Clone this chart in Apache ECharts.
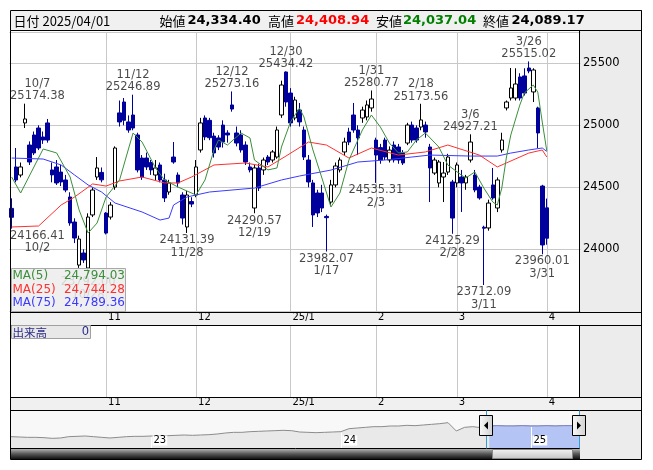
<!DOCTYPE html>
<html><head><meta charset="utf-8"><title>chart</title>
<script src="https://cdn.jsdelivr.net/npm/echarts@6.0.0/dist/echarts.min.js"></script>
<style>html,body{margin:0;padding:0;background:#fff;}#chart{width:653px;height:470px;}</style>
</head><body><div id="chart"></div>
<script>
const tradingDates = ['10/2','10/3','10/4','10/7','10/8','10/9','10/10','10/11','10/15','10/16','10/17','10/18','10/21','10/22','10/23','10/24','10/25','10/28','10/29','10/30','10/31',
'11/1','11/5','11/6','11/7','11/8','11/11','11/12','11/13','11/14','11/15','11/18','11/19','11/20','11/21','11/22','11/25','11/26','11/27','11/28','11/29',
'12/2','12/3','12/4','12/5','12/6','12/9','12/10','12/11','12/12','12/13','12/16','12/17','12/18','12/19','12/20','12/23','12/24','12/25','12/26','12/27','12/30',
'1/6','1/7','1/8','1/9','1/10','1/14','1/15','1/16','1/17','1/20','1/21','1/22','1/23','1/24','1/27','1/28','1/29','1/30','1/31',
'2/3','2/4','2/5','2/6','2/7','2/10','2/12','2/13','2/14','2/17','2/18','2/19','2/20','2/21','2/25','2/26','2/27','2/28',
'3/3','3/4','3/5','3/6','3/7','3/10','3/11','3/12','3/13','3/14','3/17','3/18','3/19','3/21','3/24','3/25','3/26','3/27','3/28','3/31','4/1'];

const openValues = [24330,24664,24599,25019,24841,24922,24978,24906,25019,24640,24664,24623,24559,24422,24220,23873,23970,23849,24277,24583,24620,
24292,24260,24502,25100,25188,25027,25083,24922,24736,24736,24700,24599,24680,24559,24462,24744,24599,24438,24180,24385,
24438,24801,25059,25040,24913,24898,25002,24938,25164,24938,24922,24841,24664,24333,24656,24640,24744,24720,24744,25083,25430,
25260,25059,25123,24962,24720,24535,24454,24454,24265,24381,24519,24640,24785,24946,25083,24962,25059,25067,25140,
24881,24820,24881,24720,24841,24825,24777,24857,25002,24978,24986,25002,24825,24615,24535,24583,24623,24543,
24535,24583,24535,24720,24599,24502,24178,24172,24519,24333,24801,25140,25220,25220,25390,25398,25462,25269,25140,24510,24334.40];
const highValues = [24411,24817,24700,25174.38,24870,24950,25000,24950,25051,24700,24720,24680,24600,24460,24250,24110,24000,24290,24500,24744,24660,
24300,24380,24830,25200,25220,25080,25246.89,24940,24760,24780,24720,24720,24700,24610,24560,24865,24620,24460,24470,24420,
24720,25060,25080,25060,24940,24920,25040,24960,25273.16,24990,24960,24870,24700,24680,24690,24740,24760,24800,24990,25360,25434.42,
25300,25230,25180,24990,24760,24560,24480,24520,24280,24560,24700,24740,24900,24980,25180,25000,25150,25200,25280.77,
24900,24850,24900,24830,24870,24850,24800,25020,25030,25000,25173.56,25030,24850,24740,24720,24704,24770,24560,
24700,24640,24600,24927.21,24640,24520,24190,24400,24656,24580,24940,25200,25462,25460,25420,25460,25515.02,25460,25150,24520,24408.94];
const lowValues = [24166.41,24540,24580,24978,24680,24760,24800,24850,24860,24540,24519,24510,24460,24190,24050,23850,23890,23792,24260,24560,24540,
24120,24240,24480,24990,25000,24940,24960,24620,24560,24640,24600,24559,24540,24381,24440,24690,24500,24200,24131.39,24340,
24420,24780,24880,24880,24740,24800,24820,24860,25110,24830,24780,24680,24620,24290.57,24470,24600,24680,24700,24730,25060,25150,
24990,25040,24990,24720,24500,24180,24260,24300,23982.07,24360,24500,24620,24760,24840,24940,24760,25020,25040,25110,
24535.31,24690,24720,24700,24700,24690,24680,24840,24860,24860,24960,24900,24381,24600,24500,24381,24600,24125.29,
24500,24301,24480,24700,24460,24400,23712.09,24150,24400,24300,24780,25120,25200,25200,25200,25240,25420,25188,24817,23960.01,24037.04];
const closeValues = [24258,24559,24664,25051,24704,24777,24817,24881,24881,24600,24535,24543,24478,24212,24091,24083,23914,24260,24478,24656,24560,
24131,24357,24817,25027,25040,24962,24978,24640,24583,24664,24640,24656,24559,24414,24535,24704,24535,24252,24438,24365,
24664,25019,24906,24900,24777,24825,24865,24922,25131,24857,24801,24704,24640,24656,24494,24720,24704,24785,24962,25325,25188,
25019,25204,25027,24744,24543,24277,24293,24333,24255,24519,24672,24720,24865,24865,24962,24898,25123,25164,25212,
24760,24720,24744,24800,24720,24720,24696,25002,24881,24881,25043,24946,24656,24720,24704,24615,24744,24252,
24680,24535,24583,24865,24478,24414,24170,24373,24414,24559,24881,25188,25301,25333,25220,25260,25438,25446,24938,24035,24089.17];

// moving averages: [dateIndex, value]
const ma5Points = [[0,24583],[2,24454],[7,24809],[10,24777],[13,24583],[15,24317],[17,24131],[19,24212],[21,24422],[24,24559],[27,24938],[29,24865],[32,24656],[34,24559],[37,24502],[41,24438],[43,24559],[45,24801],[46,24881],[48,24841],[51,24938],[53,24898],[54,24720],[57,24640],[59,24656],[60,24825],[62,25026],[64,25139],[65,25067],[67,24801],[69,24575],[71,24341],[73,24454],[75,24720],[78,24962],[80,25083],[82,24986],[84,24857],[86,24777],[88,24785],[90,24881],[92,24938],[95,24825],[97,24680],[100,24599],[101,24575],[103,24624],[105,24494],[107,24381],[108,24357],[109,24494],[110,24736],[111,24922],[113,25163],[114,25260],[116,25325],[117,25268],[118,25026],[119,24794.03]];
const ma25Points = [[0,24180],[6,24188],[11,24357],[14,24422],[18,24527],[21,24510],[24,24551],[29,24583],[34,24535],[37,24535],[40,24583],[45,24680],[52,24696],[57,24664],[61,24752],[66,24865],[70,24841],[75,24736],[80,24817],[86,24760],[92,24785],[97,24841],[104,24760],[108,24664],[110,24696],[115,24776],[118,24801],[119,24744.28]];
const ma75Points = [[0,24736],[7,24728],[11,24680],[14,24599],[17,24519],[20,24462],[23,24373],[29,24301],[33,24236],[35,24252],[36,24357],[39,24422],[44,24462],[54,24494],[60,24559],[64,24591],[71,24639],[77,24704],[83,24720],[89,24744],[93,24760],[102,24752],[108,24752],[111,24776],[115,24801],[118,24817],[119,24789.36]];

const highMarkDates = ['10/7','11/12','12/12','12/30','1/31','2/18','3/6','3/26'];
const lowMarkDates = ['10/2','10/28','11/28','12/19','1/17','2/3','2/28','3/11','3/31'];

const monthStartDates = ['11/1','12/2','1/6','2/3','3/3','4/1'];
const monthLabels = ['11','12','25/1','2','3','4'];
const yTickLabels = [24000, 24500, 25000, 25500];
const headerDate = '2025/04/01';
const volumeLabel = '出来高';
const volumeValue = 0;

// navigator (long history thumbnail)
const navValues = [21895,21806,21718,21718,21630,21453,21541,21895,21983,22071,21895,21718,21541,21718,21895,21983,21983,22071,22071,22160,22248,22336,22248,22336,22425,22601,22866,23043,23043,23220,23308,23397,23485,23573,23485,23132,23043,22955,23043,23132,23220,24015,24192,24368,24545,24545,24722,24722,24898,24810,24987,25164,25340,25605,23397,24368,24545,24280,24722,24810,24722,24722,24810,24722,24722,24810,24722,24810,24810,24810];
const navYearStartIdx = [17, 40, 63];
const navYearLabels = ['23', '24', '25'];
const navSelectStart = 58;

const FONT = '"DejaVu Sans", "Noto Sans CJK JP", sans-serif';
const JFONT = '"Noto Sans CJK JP", "DejaVu Sans", sans-serif';
const UP_BORDER = '#000000', DOWN_COLOR = '#00009c';
const GRID_COLOR = '#c8c8c8';

const N_SLOTS = 127;
const categories = tradingDates.concat(Array.from({length: N_SLOTS - tradingDates.length}, (_, k) => 'pad' + k));
const idxOf = d => tradingDates.indexOf(d);
const fmt = v => v.toLocaleString('en-US', {minimumFractionDigits: 2, maximumFractionDigits: 2});
const last = tradingDates.length - 1;

const candleData = tradingDates.map((d, i) => [openValues[i], closeValues[i], lowValues[i], highValues[i]]);
const monthStartIdx = monthStartDates.map(idxOf);

function vLines(params, api) {
  const x = Math.round(api.coord([api.value(0), 0])[0]) + 0.5;
  const cs = params.coordSys;
  return {type: 'line', shape: {x1: x, y1: cs.y, x2: x, y2: cs.y + cs.height}, style: {stroke: GRID_COLOR, lineWidth: 1}, silent: true};
}

const chart = echarts.init(document.getElementById('chart'), null, {renderer: 'canvas', width: 653, height: 470});

const xCommon = (gi, margin) => ({
  type: 'category', gridIndex: gi, data: categories, boundaryGap: true,
  axisLine: {show: false}, axisTick: {show: false}, splitLine: {show: false},
  axisLabel: {
    show: true, interval: (i, v) => monthStartDates.includes(v),
    formatter: v => monthLabels[monthStartDates.indexOf(v)] || '',
    align: 'left', padding: [0, 0, 0, 2], margin: margin, fontSize: 10, lineHeight: 11,
    fontFamily: FONT, color: '#000'
  }
});

const graphicEls = [];
graphicEls.push({type: 'rect', shape: {x: 10.5, y: 10.5, width: 631, height: 20}, style: {fill: '#f0f0f0', stroke: '#000', lineWidth: 1}, z: 0, silent: true});
const hy = 21;
function htext(x, text, opts) {
  graphicEls.push({type: 'text', x: x, y: hy, z: 30, silent: true, style: Object.assign({text: text, fill: '#000', fontSize: 13, fontFamily: JFONT, verticalAlign: 'middle', textVerticalAlign: 'middle', align: 'left'}, opts || {})});
}
htext(13.5, '日付 ' + headerDate);
htext(159.5, '始値');
htext(187.5, fmt(openValues[last]), {fontWeight: 'bold', fontFamily: FONT});
htext(268, '高値');
htext(296, fmt(highValues[last]), {fontWeight: 'bold', fontFamily: FONT, fill: '#ff0000'});
htext(376, '安値');
htext(403, fmt(lowValues[last]), {fontWeight: 'bold', fontFamily: FONT, fill: '#008000'});
htext(483, '終値');
htext(511.5, fmt(closeValues[last]), {fontWeight: 'bold', fontFamily: FONT});

graphicEls.push({type: 'rect', shape: {x: 580, y: 31, width: 62, height: 281}, style: {fill: '#ececec'}, z: 0, silent: true});
graphicEls.push({type: 'rect', shape: {x: 580, y: 325, width: 62, height: 72}, style: {fill: '#ececec'}, z: 0, silent: true});
graphicEls.push({type: 'rect', shape: {x: 580, y: 410, width: 62, height: 49}, style: {fill: '#ececec'}, z: 0, silent: true});
graphicEls.push({type: 'rect', shape: {x: 11, y: 312, width: 631, height: 13}, style: {fill: '#f0f0f0'}, z: 0, silent: true});
graphicEls.push({type: 'rect', shape: {x: 11, y: 397, width: 631, height: 13}, style: {fill: '#f0f0f0'}, z: 0, silent: true});
graphicEls.push({type: 'rect', shape: {x: 11, y: 410, width: 569, height: 38}, style: {fill: '#f8f8f8'}, z: 0, silent: true});
const hl = (x1, x2, y) => graphicEls.push({type: 'line', shape: {x1: x1, y1: y, x2: x2, y2: y}, style: {stroke: '#000', lineWidth: 1}, z: 40, silent: true});
const vl = (x, y1, y2, c) => graphicEls.push({type: 'line', shape: {x1: x, y1: y1, x2: x, y2: y2}, style: {stroke: c || '#000', lineWidth: 1}, z: 40, silent: true});
hl(10.5, 641.5, 312.5); hl(10.5, 641.5, 325.5); hl(10.5, 641.5, 397.5); hl(10.5, 641.5, 410.5); hl(10.5, 580, 448.5); hl(10.5, 641.5, 459.5);
vl(10.5, 30.5, 459.5); vl(641.5, 10.5, 459.5); vl(579.5, 30.5, 312.5); vl(579.5, 325.5, 397.5);
graphicEls.push({type: 'rect', shape: {x: 11.5, y: 268.5, width: 114, height: 43}, style: {fill: 'rgba(236,236,236,0.86)', stroke: '#a8a8a8', lineWidth: 1}, z: 50, silent: true});
const maRows = [['MA(5)', ma5Points, '#3a8f3a'], ['MA(25)', ma25Points, '#ff3030'], ['MA(75)', ma75Points, '#3a3aff']];
maRows.forEach((r, k) => {
  const y = 276 + k * 13.5;
  graphicEls.push({type: 'text', x: 12.5, y: y, z: 51, silent: true, style: {text: r[0], fill: r[2], fontSize: 12, fontFamily: FONT, verticalAlign: 'middle', textVerticalAlign: 'middle'}});
  graphicEls.push({type: 'text', x: 125, y: y, z: 51, silent: true, style: {text: fmt(r[1][r[1].length - 1][1]), fill: r[2], fontSize: 12, fontFamily: FONT, align: 'right', textAlign: 'right', verticalAlign: 'middle', textVerticalAlign: 'middle'}});
});
graphicEls.push({type: 'rect', shape: {x: 11.5, y: 325.5, width: 79, height: 13}, style: {fill: '#e8e8e8', stroke: '#a0a0a0', lineWidth: 1}, z: 50, silent: true});
graphicEls.push({type: 'text', x: 12.5, y: 332.5, z: 51, silent: true, style: {text: volumeLabel, fill: '#2a2a8a', fontSize: 11.5, fontFamily: JFONT, verticalAlign: 'middle', textVerticalAlign: 'middle'}});
graphicEls.push({type: 'text', x: 89, y: 332.5, z: 51, silent: true, style: {text: String(volumeValue), fill: '#2a2a8a', fontSize: 11.5, fontFamily: FONT, align: 'right', textAlign: 'right', verticalAlign: 'middle', textVerticalAlign: 'middle'}});
const darkGrad = {type: 'linear', x: 0, y: 0, x2: 0, y2: 1, colorStops: [{offset: 0, color: '#b0b0b0'}, {offset: 0.5, color: '#555'}, {offset: 1, color: '#111'}]};
graphicEls.push({type: 'rect', shape: {x: 11, y: 449, width: 569, height: 10}, style: {fill: darkGrad}, z: 30, silent: true});
graphicEls.push({type: 'rect', shape: {x: 492.5, y: 449.5, width: 80, height: 9}, style: {fill: {type: 'linear', x: 0, y: 0, x2: 0, y2: 1, colorStops: [{offset: 0, color: '#f4f4f4'}, {offset: 1, color: '#c4c4c4'}]}, stroke: '#888', lineWidth: 1}, z: 31, silent: true});
vl(486.5, 410.5, 448.5, '#2f9fd6'); vl(579.5, 410.5, 448.5, '#2f9fd6');
[[479.5, 'L'], [572.5, 'R']].forEach(h => {
  const x = h[0];
  graphicEls.push({type: 'rect', shape: {x: x, y: 415.5, width: 13, height: 20}, style: {fill: {type: 'linear', x: 0, y: 0, x2: 1, y2: 0, colorStops: [{offset: 0, color: '#fafafa'}, {offset: 1, color: '#d0d0d0'}]}, stroke: '#000', lineWidth: 1}, z: 45, silent: true});
  const cx = x + 6.5, cy = 425.5;
  const pts = h[1] === 'L' ? [[cx + 2, cy - 4], [cx + 2, cy + 4], [cx - 2, cy]] : [[cx - 2, cy - 4], [cx - 2, cy + 4], [cx + 2, cy]];
  graphicEls.push({type: 'polygon', shape: {points: pts}, style: {fill: '#000'}, z: 46, silent: true});
});

const labelFont = {fontSize: 11.5, lineHeight: 12.5, fontFamily: FONT, color: '#1a1a1a'};
const clampLayout = function (params) {
  const r = params.labelRect;
  let dx = 0;
  if (r.x < 10) dx = 10 - r.x;
  if (r.x + r.width > 578) dx = 578 - r.x - r.width;
  return {dx: dx};
};

const option = {
  animation: false,
  textStyle: {fontFamily: FONT},
  grid: [
    {left: 9.4, top: 32.3, width: 571.1, height: 279},
    {left: 9.4, top: 325.5, width: 571.1, height: 71.5},
    {left: 11, top: 410.5, width: 569, height: 37.5}
  ],
  xAxis: [
    xCommon(0, 1),
    xCommon(1, 0),
    {type: 'category', gridIndex: 2, data: navValues.map((_, i) => i), boundaryGap: false, show: false}
  ],
  yAxis: [
    {type: 'value', gridIndex: 0, position: 'right', min: 23500, max: 25750, interval: 500,
      axisLine: {show: false}, axisTick: {show: false},
      axisLabel: {margin: 2.5, fontSize: 11.5, fontFamily: FONT, color: '#000', formatter: v => yTickLabels.includes(v) ? String(v) : ''},
      splitLine: {show: true, lineStyle: {color: GRID_COLOR, width: 1}}},
    {type: 'value', gridIndex: 1, min: 0, max: 1, show: false},
    {type: 'value', gridIndex: 2, min: 18890, max: 28830, show: false}
  ],
  graphic: {elements: graphicEls},
  series: [
    {type: 'custom', xAxisIndex: 0, yAxisIndex: 0, data: monthStartIdx.map(i => [i, 0]), renderItem: vLines, z: 1, silent: true, clip: false},
    {type: 'custom', xAxisIndex: 1, yAxisIndex: 1, data: monthStartIdx.map(i => [i, 0]), renderItem: vLines, z: 1, silent: true, clip: false},
    {type: 'candlestick', xAxisIndex: 0, yAxisIndex: 0, data: candleData, barWidth: 4, z: 2,
      itemStyle: {color: '#ffffff', color0: DOWN_COLOR, borderColor: UP_BORDER, borderColor0: DOWN_COLOR, borderWidth: 1}},
    {type: 'line', xAxisIndex: 0, yAxisIndex: 0, data: ma75Points, symbol: 'none', lineStyle: {color: '#3a3aff', width: 1}, z: 3, silent: true},
    {type: 'line', xAxisIndex: 0, yAxisIndex: 0, data: ma25Points, symbol: 'none', lineStyle: {color: '#ff3030', width: 1}, z: 3, silent: true},
    {type: 'line', xAxisIndex: 0, yAxisIndex: 0, data: ma5Points, symbol: 'none', lineStyle: {color: '#3a8f3a', width: 1}, z: 3, silent: true},
    {type: 'scatter', xAxisIndex: 0, yAxisIndex: 0, symbolSize: 0, z: 4, silent: true, clip: false,
      data: highMarkDates.map(d => [idxOf(d), highValues[idxOf(d)]]),
      label: Object.assign({show: true, position: 'top', distance: 1, formatter: p => tradingDates[p.data[0]] + '\n' + p.data[1].toFixed(2)}, labelFont),
      labelLayout: clampLayout},
    {type: 'scatter', xAxisIndex: 0, yAxisIndex: 0, symbolSize: 0, z: 4, silent: true, clip: false,
      data: lowMarkDates.map(d => [idxOf(d), lowValues[idxOf(d)]]),
      label: Object.assign({show: true, position: 'bottom', distance: 1, formatter: p => p.data[1].toFixed(2) + '\n' + tradingDates[p.data[0]]}, labelFont),
      labelLayout: clampLayout},
    {type: 'line', xAxisIndex: 2, yAxisIndex: 2, data: navValues, symbol: 'none', lineStyle: {color: '#8c8c8c', width: 1}, areaStyle: {color: '#e2e2e2', origin: 'start'}, z: 2, silent: true},
    {type: 'line', xAxisIndex: 2, yAxisIndex: 2, data: navValues.map((v, i) => i >= navSelectStart ? v : '-'), symbol: 'none', lineStyle: {color: '#7f86c8', width: 1}, areaStyle: {color: '#b4c4f4', opacity: 1, origin: 'start'}, z: 3, silent: true},
    {type: 'custom', xAxisIndex: 2, yAxisIndex: 2, data: navYearStartIdx.map((i, k) => [i, navValues[i], k]), z: 4, silent: true, clip: false,
      renderItem: (params, api) => {
        const p = api.coord([api.value(0), api.value(1)]);
        const cs = params.coordSys;
        const x = Math.round(p[0]) + 0.5;
        return {type: 'group', children: [
          {type: 'line', shape: {x1: x, y1: p[1] + 1, x2: x, y2: cs.y + cs.height}, style: {stroke: '#ffffff', lineWidth: 1}},
          {type: 'text', x: x + 1, y: cs.y + 30, style: {text: navYearLabels[api.value(2)], fill: '#000', fontSize: 10, fontFamily: FONT, verticalAlign: 'middle', backgroundColor: '#ffffff', padding: [0, 1]}}
        ]};
      }}
  ]
};
chart.setOption(option);
</script>
</body></html>
